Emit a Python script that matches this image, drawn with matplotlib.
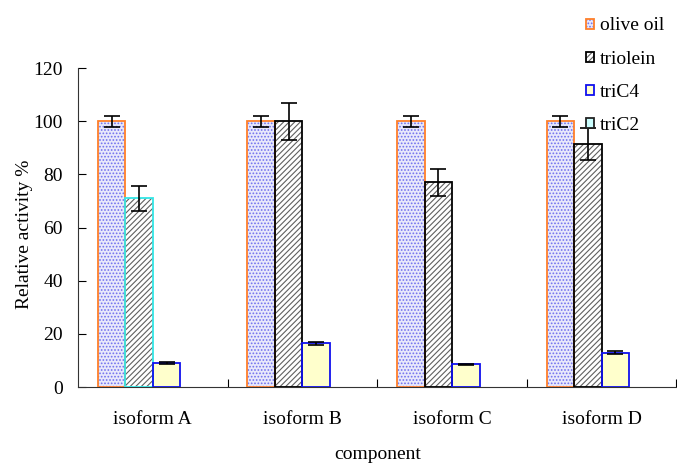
import numpy as np
import matplotlib
matplotlib.use("Agg")
import matplotlib.pyplot as plt
from matplotlib.patches import Patch

plt.rcParams['font.family'] = ['Liberation Serif', 'DejaVu Serif']
plt.rcParams['hatch.linewidth'] = 0.8

# data
groups = ["isoform A", "isoform B", "isoform C", "isoform D"]
series = ["olive oil", "triolein", "triC4", "triC2"]
olive = [100, 100, 100, 100]
olive_err = [2, 2, 2, 2]
triolein = [71, 100, 77, 91.3]
triolein_err = [4.7, 7, 5.2, 6]
tric4 = [9.1, 16.5, 8.5, 12.9]
tric4_err = [0.5, 0.5, 0.2, 0.5]
tric2 = [0, 0, 0, 0]
tric2_err = [0, 0, 0, 0]

values = [olive, triolein, tric4, tric2]
errors = [olive_err, triolein_err, tric4_err, tric2_err]

# (face, hatch, hatch colour, edge) per series
styles = [
    ('#e8e8fb', '.....', '#7070ee', '#ff7f2a'),
    ('white', '//////', '#606060', 'black'),
    ('#ffffcc', None, '#ffffcc', '#1010ee'),
    ('#ccffff', None, '#ccffff', '#222222'),
]
# first triolein bar has a cyan outline in the original
edge_override = {(1, 0): '#33e6e6'}

fig = plt.figure(figsize=(6.77, 4.63), dpi=100)
ax = fig.add_axes([0.1152, 0.164, 0.884, 0.689])

width = 0.1836
x = np.arange(len(groups)) + 0.5
for k in range(len(series)):
    pos = x + (k - 1.5) * width
    face, hatch, hcol, edge = styles[k]
    ax.bar(pos, values[k], width, color=face, hatch=hatch, edgecolor=hcol, linewidth=0, zorder=2)
    edges = [edge_override.get((k, i), edge) for i in range(len(groups))]
    lws = [1.3 if v > 0 else 0 for v in values[k]]
    ax.bar(pos, values[k], width, fill=False, edgecolor=edges, linewidth=lws, zorder=3)
    if any(e > 0 for e in errors[k]):
        ax.errorbar(pos, values[k], yerr=errors[k], fmt='none', ecolor='black',
                    elinewidth=1.2, capsize=5.5, capthick=1.2, zorder=4)

ax.set_xlim(0, 4)
ax.set_ylim(0, 120)
ax.set_yticks(range(0, 121, 20))
ax.set_xticks([1, 2, 3, 4])
ax.set_xticklabels([])
ax.set_xticks(x, minor=True)
ax.set_xticklabels(groups, minor=True)
ax.tick_params(axis='x', which='minor', length=0, pad=17, labelsize=14)
ax.tick_params(axis='x', which='major', direction='in', length=6)
ax.tick_params(axis='y', direction='in', length=6, labelsize=14, pad=11)
ax.spines['top'].set_visible(False)
ax.spines['right'].set_visible(False)
for s in ['left', 'bottom']:
    ax.spines[s].set_color('#333333')

ax.set_ylabel("Relative activity %", fontsize=14)
ax.yaxis.set_label_coords(-0.076, 0.48)
ax.set_xlabel("component", fontsize=14, labelpad=13)

handles = []
for k in range(len(series)):
    face, hatch, hcol, edge = styles[k]
    handles.append((Patch(facecolor=face, hatch=hatch, edgecolor=hcol, linewidth=0),
                    Patch(fill=False, edgecolor=edge, linewidth=1.3)))
fig.legend(handles, series, loc='upper left', bbox_to_anchor=(0.8397, 1.0),
           frameon=False, fontsize=14, handlelength=0.42, handleheight=0.42,
           handletextpad=0.3, labelspacing=0.83)

fig.savefig("out.png", dpi=100)
